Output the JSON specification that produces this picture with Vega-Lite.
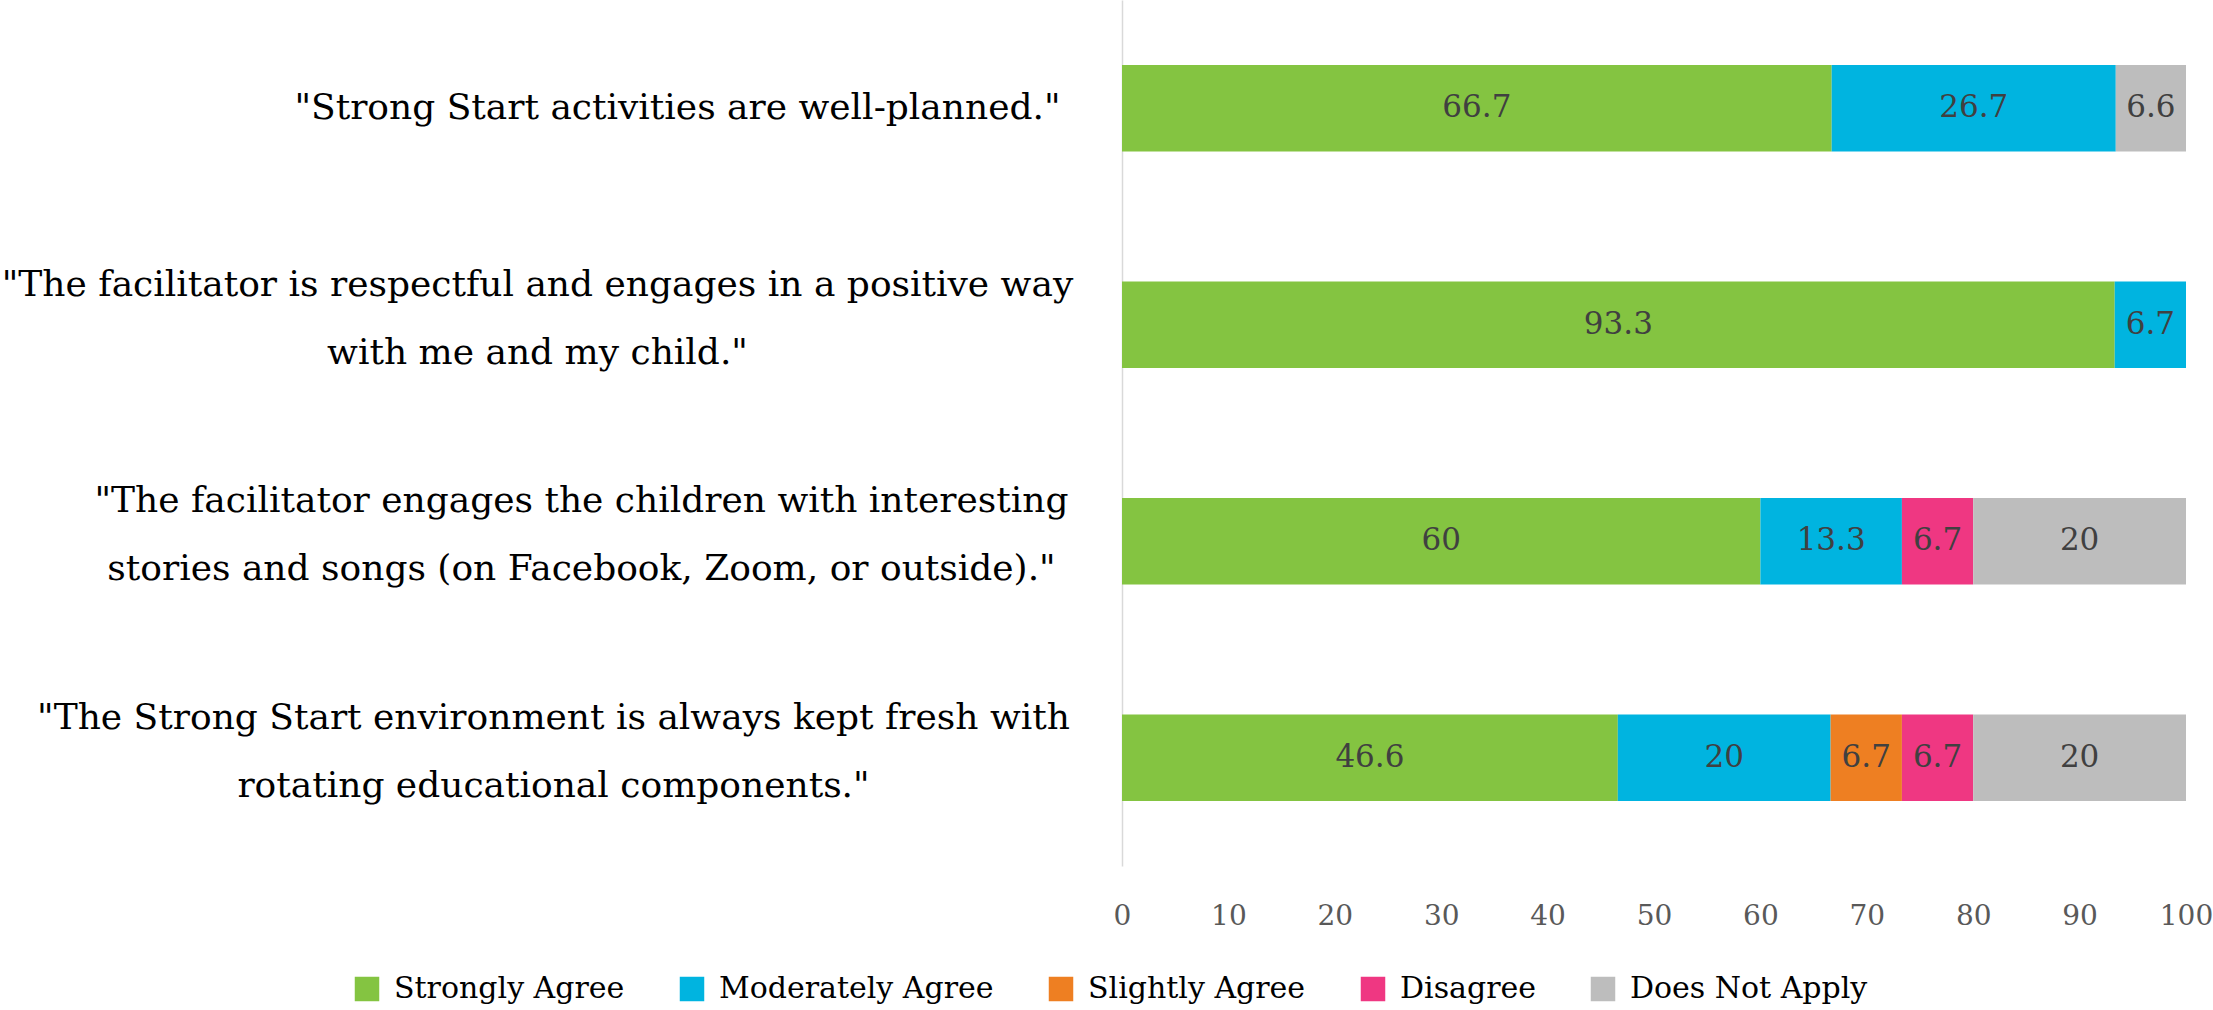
{
  "$schema": "https://vega.github.io/schema/vega-lite/v6.json",
  "width": 1064,
  "height": 866,
  "autosize": {"type": "none"},
  "padding": {"left": 1122, "top": 0, "right": 27, "bottom": 144},
  "background": "white",
  "config": {
    "view": {"stroke": null},
    "font": "DejaVu Serif"
  },
  "data": {
    "values": [
      {"question": "\"Strong Start activities are well-planned.\"", "response": "Strongly Agree", "pct": 66.7},
      {"question": "\"Strong Start activities are well-planned.\"", "response": "Moderately Agree", "pct": 26.7},
      {"question": "\"Strong Start activities are well-planned.\"", "response": "Does Not Apply", "pct": 6.6},
      {"question": "\"The facilitator is respectful and engages in a positive way\nwith me and my child.\"", "response": "Strongly Agree", "pct": 93.3},
      {"question": "\"The facilitator is respectful and engages in a positive way\nwith me and my child.\"", "response": "Moderately Agree", "pct": 6.7},
      {"question": "\"The facilitator engages the children with interesting\nstories and songs (on Facebook, Zoom, or outside).\"", "response": "Strongly Agree", "pct": 60},
      {"question": "\"The facilitator engages the children with interesting\nstories and songs (on Facebook, Zoom, or outside).\"", "response": "Moderately Agree", "pct": 13.3},
      {"question": "\"The facilitator engages the children with interesting\nstories and songs (on Facebook, Zoom, or outside).\"", "response": "Disagree", "pct": 6.7},
      {"question": "\"The facilitator engages the children with interesting\nstories and songs (on Facebook, Zoom, or outside).\"", "response": "Does Not Apply", "pct": 20},
      {"question": "\"The Strong Start environment is always kept fresh with\nrotating educational components.\"", "response": "Strongly Agree", "pct": 46.6},
      {"question": "\"The Strong Start environment is always kept fresh with\nrotating educational components.\"", "response": "Moderately Agree", "pct": 20},
      {"question": "\"The Strong Start environment is always kept fresh with\nrotating educational components.\"", "response": "Slightly Agree", "pct": 6.7},
      {"question": "\"The Strong Start environment is always kept fresh with\nrotating educational components.\"", "response": "Disagree", "pct": 6.7},
      {"question": "\"The Strong Start environment is always kept fresh with\nrotating educational components.\"", "response": "Does Not Apply", "pct": 20}
    ]
  },
  "transform": [
    {"calculate": "indexof(['Strongly Agree','Moderately Agree','Slightly Agree','Disagree','Does Not Apply'], datum.response)", "as": "rank"},
    {"stack": "pct", "groupby": ["question"], "sort": [{"field": "rank", "order": "ascending"}], "as": ["x0", "x1"]},
    {"calculate": "(datum.x0 + datum.x1) / 2", "as": "xmid"}
  ],
  "resolve": {"axis": {"y": "independent"}},
  "layer": [
    {
      "mark": {"type": "bar"},
      "encoding": {
        "y": {
          "field": "question",
          "type": "nominal",
          "sort": null,
          "title": null,
          "scale": {"paddingInner": 0.6, "paddingOuter": 0.3},
          "axis": {
            "labelExpr": "split(datum.value, '\\n')",
            "labelFontSize": 36,
            "labelLineHeight": 68,
            "labelColor": "#000000",
            "labelPadding": {
              "condition": [
                {"test": "indexof(datum.value, 'well-planned') >= 0", "value": 445},
                {"test": "indexof(datum.value, 'respectful') >= 0", "value": 585},
                {"test": "indexof(datum.value, 'interesting') >= 0", "value": 541}
              ],
              "value": 569
            },
            "labelOffset": {
              "condition": {"test": "indexof(datum.value, 'well-planned') >= 0", "value": 0},
              "value": -40
            },
            "labelLimit": 1300,
            "labelAlign": "center",
            "ticks": false,
            "domain": true,
            "domainColor": "#d9d9d9",
            "domainWidth": 1.5,
            "grid": false
          }
        },
        "x": {
          "field": "x0",
          "type": "quantitative",
          "scale": {"domain": [0, 100], "nice": false},
          "title": null,
          "axis": {
            "values": [0, 10, 20, 30, 40, 50, 60, 70, 80, 90, 100],
            "labelFontSize": 28,
            "labelColor": "#595959",
            "labelPadding": 36,
            "ticks": false,
            "domain": false,
            "grid": false,
            "labelFlush": false
          }
        },
        "x2": {"field": "x1"},
        "color": {
          "field": "response",
          "type": "nominal",
          "scale": {
            "domain": ["Strongly Agree", "Moderately Agree", "Slightly Agree", "Disagree", "Does Not Apply"],
            "range": ["#84C441", "#00B4E0", "#EE7F22", "#EF3782", "#BDBDBD"]
          },
          "legend": {
            "title": null,
            "orient": "none",
            "direction": "horizontal",
            "columns": 5,
            "legendX": -770,
            "legendY": 974,
            "symbolType": "square",
            "symbolSize": 600,
            "symbolStrokeWidth": 0,
            "labelFontSize": 30,
            "labelColor": "#000000",
            "labelOffset": 12,
            "columnPadding": 52,
            "labelLimit": 400
          }
        }
      }
    },
    {
      "mark": {"type": "text", "fontSize": 31, "color": "#404040", "align": "center", "baseline": "middle"},
      "encoding": {
        "y": {"field": "question", "type": "nominal", "sort": null, "axis": null},
        "x": {"field": "xmid", "type": "quantitative"},
        "text": {"field": "pct", "type": "quantitative"}
      }
    }
  ]
}
